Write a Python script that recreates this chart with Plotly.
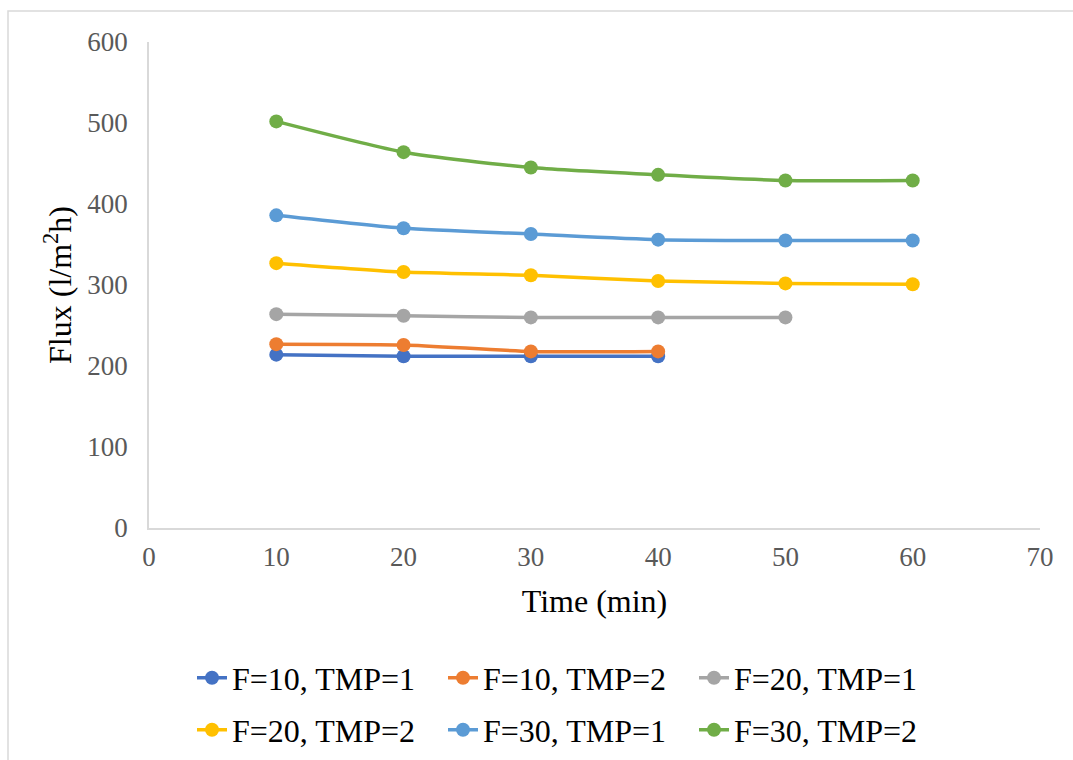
import plotly.graph_objects as go

# Permeate flux over time for each feed / TMP combination
time_a = [10, 20, 30, 40]
time_b = [10, 20, 30, 40, 50]
time_c = [10, 20, 30, 40, 50, 60]

flux_f10_tmp1 = [214, 212, 212, 212]
flux_f10_tmp2 = [227, 226, 218, 218]
flux_f20_tmp1 = [264, 262, 260, 260, 260]
flux_f20_tmp2 = [327, 316, 312, 305, 302, 301]
flux_f30_tmp1 = [386, 370, 363, 356, 355, 355]
flux_f30_tmp2 = [502, 464, 445, 436, 429, 429]

series = [
    ("F=10, TMP=1", time_a, flux_f10_tmp1, "#4472C4", "legend"),
    ("F=10, TMP=2", time_a, flux_f10_tmp2, "#ED7D31", "legend"),
    ("F=20, TMP=1", time_b, flux_f20_tmp1, "#A5A5A5", "legend"),
    ("F=20, TMP=2", time_c, flux_f20_tmp2, "#FFC000", "legend2"),
    ("F=30, TMP=1", time_c, flux_f30_tmp1, "#5B9BD5", "legend2"),
    ("F=30, TMP=2", time_c, flux_f30_tmp2, "#70AD47", "legend2"),
]

FONT = "Liberation Serif, Times New Roman, serif"

fig = go.Figure()
for name, x, y, color, leg in series:
    fig.add_trace(go.Scatter(
        x=x, y=y, name=name, mode="lines+markers",
        line=dict(color=color, width=3.5, shape="spline", smoothing=0.6),
        marker=dict(color=color, size=14),
        legend=leg,
    ))

W, H = 1073, 760
L, R, T, B = 149, 33, 42, 232
pw, ph = W - L - R, H - T - B

def px_x(p):
    return (p - L) / pw

def px_y(p):
    return (H - B - p) / ph

legend_common = dict(
    orientation="h", xanchor="left", yanchor="middle",
    xref="container", yref="container",
    font=dict(family=FONT, size=32, color="#000000"),
    bgcolor="rgba(0,0,0,0)", entrywidth=206, entrywidthmode="pixels",
    itemclick=False,
)

fig.update_layout(
    width=W, height=H,
    margin=dict(l=L, r=R, t=T, b=B, autoexpand=False),
    paper_bgcolor="white", plot_bgcolor="white",
    font=dict(family=FONT),
    showlegend=True,
    legend=dict(x=192 / W, y=1 - 678 / H, **legend_common),
    legend2=dict(x=192 / W, y=1 - 730 / H, **legend_common),
    xaxis=dict(
        range=[0, 70], tick0=0, dtick=10, showgrid=False, zeroline=False,
        showline=True, linecolor="#D9D9D9", linewidth=1.5,
        ticks="outside", ticklen=4, tickcolor="rgba(0,0,0,0)",
        tickfont=dict(family=FONT, size=27, color="#595959"),
        title=dict(text="Time (min)", font=dict(family=FONT, size=32, color="#000000"), standoff=18),
    ),
    yaxis=dict(
        range=[0, 600], tick0=0, dtick=100, showgrid=False, zeroline=False,
        showline=True, linecolor="#D9D9D9", linewidth=1.5,
        ticks="outside", ticklen=14, tickcolor="rgba(0,0,0,0)",
        tickfont=dict(family=FONT, size=27, color="#595959"),
        title=dict(text="Flux (l/m<sup>2</sup>h)", font=dict(family=FONT, size=32, color="#000000"), standoff=6),
    ),
    shapes=[dict(
        type="rect", xref="paper", yref="paper",
        x0=px_x(8), x1=px_x(1100), y0=px_y(800), y1=px_y(11),
        line=dict(color="#D9D9D9", width=1.5), fillcolor="rgba(0,0,0,0)", layer="below",
    )],
)

fig.write_html("out.html")
